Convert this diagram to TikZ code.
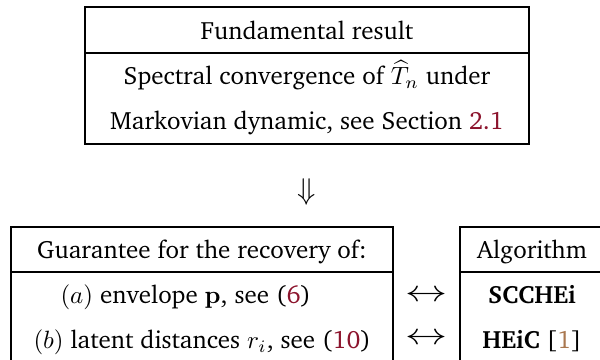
\documentclass[tikz,border=0pt]{standalone}
\IfFileExists{charter.sty}{%
  \usepackage[T1]{fontenc}
  \usepackage{charter}
  \newcommand{\cellfont}{\fontsize{10}{12}\selectfont}
}{%
  \usepackage{fontspec}
  \setmainfont{DejaVu Serif}
  \newcommand{\cellfont}{\fontsize{8.7}{10.5}\selectfont}
}
\usepackage{amsmath,amssymb}
\usepackage{graphicx}
\usepackage{xcolor}

\definecolor{refred}{RGB}{140,20,45}
\definecolor{citebrown}{RGB}{170,120,80}

\tikzset{
  celltext/.style={anchor=base, inner sep=0pt},
  boxline/.style={line width=0.7pt},
  arrowsym/.style={font=\fontsize{12}{14}\selectfont, inner sep=0pt},
}

\begin{document}
\begin{tikzpicture}[x=0.4pt, y=-0.4pt, font=\cellfont]

  \useasboundingbox (0,0) rectangle (600,360);
  \clip (0,0) rectangle (600,360);

  % ── Top box: fundamental result ───────────────────────────────────
  \draw[boxline] (85,7) rectangle (529,144);
  \draw[boxline] (85,53) -- (529,53);
  \node[celltext] (fund)   at (307,39)    {Fundamental result};
  \node[celltext] (spec)   at (307,84.5)  {Spectral convergence of $\widehat{T}_n$ under};
  \node[celltext] (markov) at (307,129.5) {Markovian dynamic, see Section \textcolor{refred}{2.1}};

  % ── Implication ───────────────────────────────────────────────────
  \node[arrowsym] (implies) at (307,192) {$\Downarrow$};

  % ── Left box: guarantees ──────────────────────────────────────────
  \draw[boxline] (11,227) rectangle (393,362);
  \draw[boxline] (11,272) -- (393,272);
  \node[celltext] (guar) at (202,258.5) {Guarantee for the recovery of:};
  \node[celltext, anchor=base west] (rowa) at (60,303.5)
    {$(a)$ envelope $\mathbf{p}$, see (\textcolor{refred}{6})};
  \node[celltext, anchor=base west] (rowb) at (33,348.5)
    {$(b)$ latent distances $r_i$, see (\textcolor{refred}{10})};

  % ── Correspondence arrows ─────────────────────────────────────────
  \foreach \y/\nm in {296/eqa,339/eqb}{
    \node[arrowsym] (\nm) at (426,\y) {\scalebox{1.4}[1]{$\leftrightarrow$}};
  }

  % ── Right box: algorithms ─────────────────────────────────────────
  \draw[boxline] (460,227) rectangle (604,362);
  \draw[boxline] (460,272) -- (604,272);
  \node[celltext] (algo)  at (532,258.5) {Algorithm};
  \node[celltext] (scc)   at (532,303.5) {\textbf{SCCHEi}};
  \node[celltext] (heic)  at (532,348.5) {\textbf{HEiC} [\textcolor{citebrown}{1}]};

\end{tikzpicture}
\end{document}
